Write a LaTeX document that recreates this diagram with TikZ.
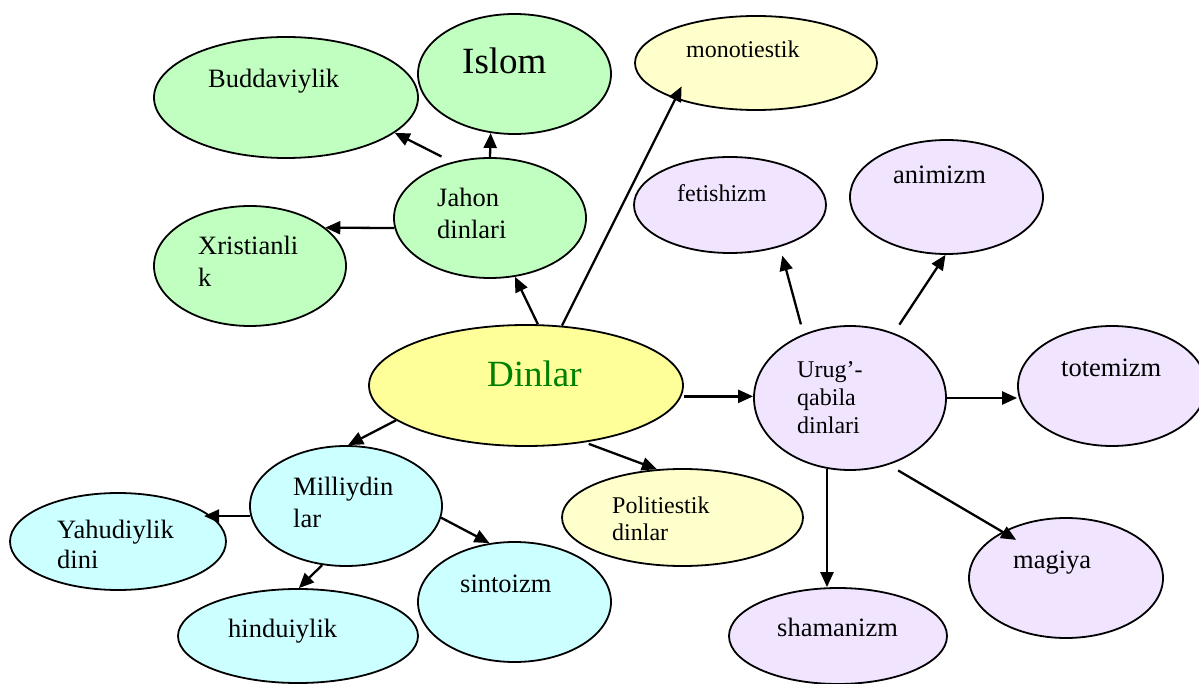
\documentclass[tikz,border=0pt]{standalone}
\usepackage{fontspec}
\setmainfont{Liberation Serif}
\usetikzlibrary{shapes.geometric,arrows.meta}
\definecolor{worldgreen}{HTML}{C0FFC0}
\definecolor{rootyellow}{HTML}{FFFF99}
\definecolor{paleyellow}{HTML}{FFFFCC}
\definecolor{nationcyan}{HTML}{CCFFFF}
\definecolor{tribelilac}{HTML}{F0E4FF}
\definecolor{titlegreen}{HTML}{008000}
\newcommand{\txtnorm}{\fontsize{26.5}{32}\selectfont}
\newcommand{\txtsmall}{\fontsize{24}{28}\selectfont}
\newcommand{\txtbig}{\fontsize{37}{44}\selectfont}
\tikzset{
  bubble/.style={ellipse, draw, line width=1.8pt, inner sep=0pt},
  arr/.style={line width=2.3pt, -{Triangle[length=15pt,width=13pt]}},
  lbl/.style={anchor=base west, inner sep=0pt, align=left, font=\txtnorm},
}

\begin{document}
\begin{tikzpicture}[x=1pt,y=-1pt]
		%%%%% START %%%%%
		\useasboundingbox (0,0) rectangle (1199,684);
		
		\node[bubble, fill=worldgreen, minimum width=193pt, minimum height=120pt] (islom) at (514.5,74) {};
		\node[bubble, fill=worldgreen, minimum width=264pt, minimum height=121pt] (budda) at (286,97.5) {};
		\node[bubble, fill=worldgreen, minimum width=192pt, minimum height=120pt] (jahon) at (490,218) {};
		\node[bubble, fill=worldgreen, minimum width=192pt, minimum height=120pt] (xrist) at (250,266) {};
		
		\node[bubble, fill=paleyellow, minimum width=242pt, minimum height=94pt] (mono) at (756,63) {};
		\node[bubble, fill=rootyellow, minimum width=314pt, minimum height=121pt] (dinlar) at (526,385.5) {};
		\node[bubble, fill=paleyellow, minimum width=241pt, minimum height=97pt] (politi) at (682.5,517.5) {};
		
		\node[bubble, fill=tribelilac, minimum width=192pt, minimum height=96pt] (fetish) at (730,205) {};
		\node[bubble, fill=tribelilac, minimum width=193pt, minimum height=114pt] (animizm) at (946.5,197) {};
		\node[bubble, fill=tribelilac, minimum width=192pt, minimum height=144pt] (urug) at (850,398) {};
		\node[bubble, fill=tribelilac, minimum width=188pt, minimum height=120pt] (totem) at (1112,386) {};
		\node[bubble, fill=tribelilac, minimum width=218pt, minimum height=96pt] (shaman) at (838,636) {};
		\node[bubble, fill=tribelilac, minimum width=194pt, minimum height=120pt] (magiya) at (1066,578) {};
		
		\node[bubble, fill=nationcyan, minimum width=192pt, minimum height=120pt] (milliy) at (346,506) {};
		\node[bubble, fill=nationcyan, minimum width=216pt, minimum height=97pt] (yahud) at (118,541.5) {};
		\node[bubble, fill=nationcyan, minimum width=240pt, minimum height=94pt] (hindu) at (298,636) {};
		\node[bubble, fill=nationcyan, minimum width=193pt, minimum height=120pt] (sinto) at (514.5,602) {};
		
		% arrows
		\draw[arr] (dinlar.79) -- (jahon.-67);
		\draw[arr, shorten >=-14pt] (dinlar.59) -- (mono.204);
		\draw[arr] (jahon.90) -- (islom.248);
		\draw[arr, shorten <=12pt] (jahon.124) -- (budda.-18);
		\draw[arr] (jahon.186) -- (xrist.27);
		\draw[arr] (dinlar.195) -- (milliy.88);
		\draw[arr, shorten <=4pt] (dinlar.-44) -- (politi.118);
		\draw[arr, shorten <=3pt] (dinlar.-4) -- (dinlar.-4 -| urug.west);
		\draw[arr, shorten >=-6pt] (milliy.186) -- (milliy.186 -| yahud.16);
		\draw[arr] (milliy.248) -- (hindu.89);
		\draw[arr] (milliy.-7) -- (sinto.113);
		\draw[arr, shorten <=10pt, shorten >=9pt] (urug.126) -- (fetish.-40);
		\draw[arr, shorten <=10pt] (urug.56) -- (animizm.-91);
		\draw[arr] (urug.east) -- (urug.east -| totem.west);
		\draw[arr] (urug.252) -- (urug.252 |- shaman.north);
		\draw[arr, shorten <=11pt, shorten >=-16pt] (urug.-60) -- (magiya.144);
		
		% texts (multi-line ones sit on their last baseline)
		\node[lbl, font=\txtbig] (islomtxt) at (462,74) {Islom};
		\node[lbl] (buddatxt) at (208,88) {Buddaviylik};
		\node[lbl] (jahontxt) at (437,239) {Jahon\\dinlari};
		\node[lbl] (xristtxt) at (198,287) {Xristianli\\k};
		\node[lbl, font=\txtsmall] (monotxt) at (686,58) {monotiestik};
		\node[lbl, font=\txtbig, text=titlegreen] (dinlartxt) at (487,386) {Dinlar};
		\node[lbl, font=\txtsmall] (fetishtxt) at (677,202) {fetishizm};
		\node[lbl] (animizmtxt) at (893,184) {animizm};
		\node[lbl, font=\fontsize{24}{28}\selectfont] (urugtxt) at (797,433) {Urug’-\\qabila\\dinlari};
		\node[lbl] (totemtxt) at (1061,377) {totemizm};
		\node[lbl] (milliytxt) at (293,527) {Milliydin\\lar};
		\node[lbl, font=\fontsize{26.5}{30}\selectfont] (yahudtxt) at (57,568) {Yahudiylik\\dini};
		\node[lbl] (hindutxt) at (228,637) {hinduiylik};
		\node[lbl] (sintotxt) at (460,592) {sintoizm};
		\node[lbl, font=\fontsize{24}{27}\selectfont] (dinlartxt2) at (612,540) {Politiestik\\dinlar};
		\node[lbl] (shamantxt) at (777,636) {shamanizm};
		\node[lbl] (magiyatxt) at (1013,568) {magiya};
		
		%%%%% END %%%%%
\end{tikzpicture}
\end{document}
